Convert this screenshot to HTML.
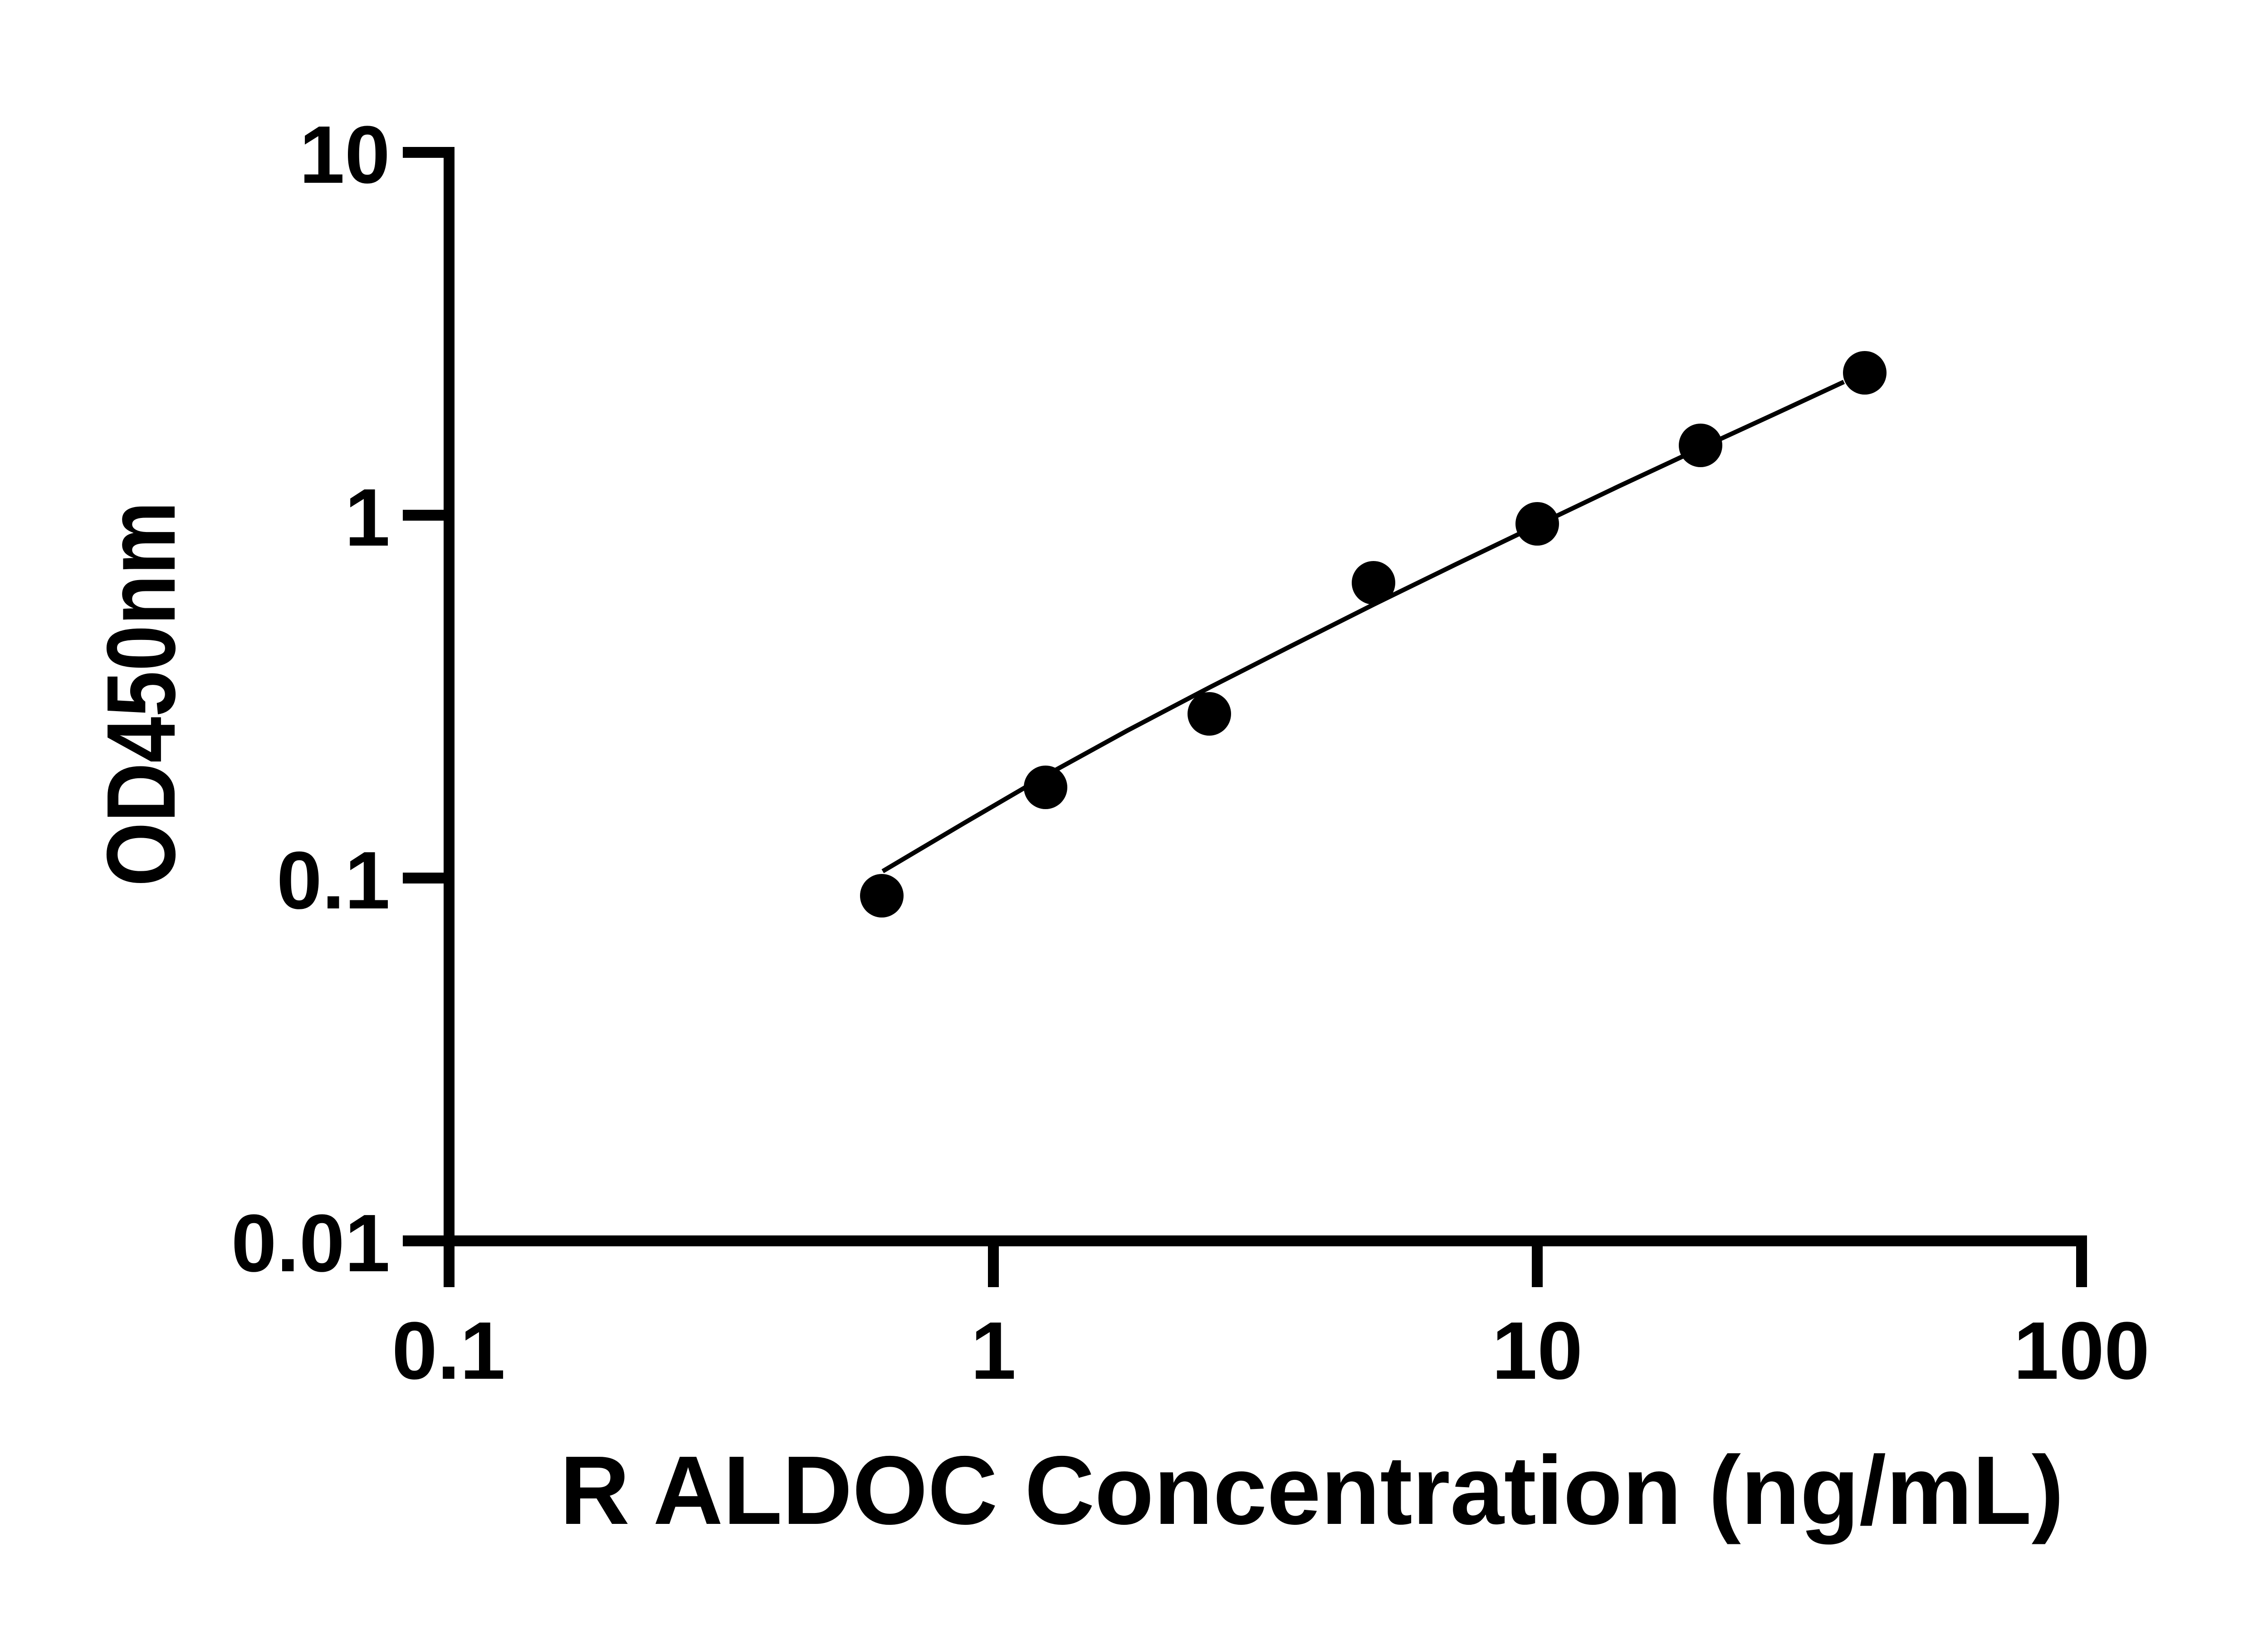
<!DOCTYPE html>
<html><head><meta charset="utf-8"><style>html,body{margin:0;padding:0;background:#fff}</style></head>
<body>
<svg width="5142" height="3600" viewBox="0 0 5142 3600" xmlns="http://www.w3.org/2000/svg">
<rect width="5142" height="3600" fill="#fff"/>
<g stroke="#000" fill="none">
<line x1="990" y1="324" x2="990" y2="2838" stroke-width="24"/>
<line x1="888" y1="2736" x2="4601" y2="2736" stroke-width="24"/>
<g stroke-width="24">
<line x1="888" y1="336" x2="990" y2="336"/>
<line x1="888" y1="1136" x2="990" y2="1136"/>
<line x1="888" y1="1936" x2="990" y2="1936"/>
<line x1="2190" y1="2736" x2="2190" y2="2838"/>
<line x1="3389" y1="2736" x2="3389" y2="2838"/>
<line x1="4589" y1="2736" x2="4589" y2="2838"/>
</g>
<polyline stroke-width="10" stroke-linejoin="round" points="1946,1921 2125,1815 2305,1710 2485,1611 2666,1516 2847,1424 3028,1333 3208,1245 3389,1158 3569,1072 3749,988 3910,914 4065,842"/>
</g>
<g fill="#000">
<circle cx="1944" cy="1975" r="48"/>
<circle cx="2305" cy="1736" r="48"/>
<circle cx="2666" cy="1574" r="48"/>
<circle cx="3028" cy="1285" r="48"/>
<circle cx="3389" cy="1155" r="48"/>
<circle cx="3749" cy="982" r="48"/>
<circle cx="4111" cy="822" r="48"/>
</g>
<g font-family="Liberation Sans, sans-serif" font-weight="bold" fill="#000">
<g font-size="180" text-anchor="end">
<text x="860" y="403">10</text>
<text x="860" y="1203">1</text>
<text x="860" y="2003">0.1</text>
<text x="860" y="2803">0.01</text>
</g>
<g font-size="180" text-anchor="middle">
<text x="989" y="3040">0.1</text>
<text x="2190" y="3040">1</text>
<text x="3389" y="3040">10</text>
<text x="4589" y="3040">100</text>
</g>
<text x="2892" y="3360" font-size="215" text-anchor="middle" textLength="3316" lengthAdjust="spacingAndGlyphs">R ALDOC Concentration (ng/mL)</text>
<text transform="translate(385,1530) rotate(-90)" font-size="215" text-anchor="middle" textLength="849" lengthAdjust="spacingAndGlyphs">OD450nm</text>
</g>
</svg>
</body></html>
